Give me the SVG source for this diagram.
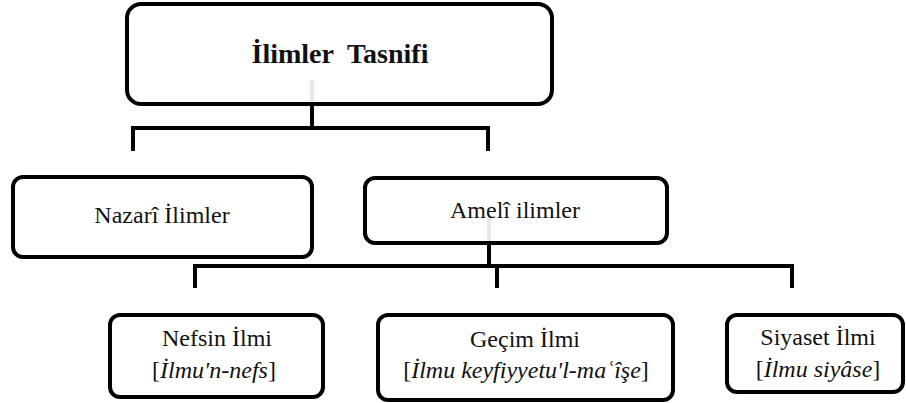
<svg xmlns="http://www.w3.org/2000/svg" width="906" height="403" viewBox="0 0 906 403">
<style>
.box{fill:#fff;stroke:#000;stroke-width:4}
.t{font-family:"Liberation Serif","Times New Roman",serif;font-size:24px;fill:#111;text-anchor:middle}
.title{font-weight:bold;font-size:28px}
.it{font-style:italic}
.con{stroke:#000;stroke-width:4;fill:none}
.ghost{stroke:#e8e8e8;stroke-width:4}
</style>
<rect width="906" height="403" fill="#fff"/>
<g id="root">
<rect class="box" x="127" y="4" width="425" height="100" rx="14"/>
<text class="t title" x="340" y="63" xml:space="preserve">İlimler  Tasnifi</text>
<line class="ghost" x1="312" y1="80" x2="312" y2="102"/>
</g>
<g id="nazari">
<rect class="box" x="13" y="177" width="299" height="80" rx="10"/>
<text class="t" x="162" y="223">Nazarî İlimler</text>
</g>
<g id="ameli">
<rect class="box" x="365" y="178" width="302" height="65" rx="10"/>
<text class="t" x="515" y="218">Amelî ilimler</text>
<line class="ghost" x1="489" y1="218" x2="489" y2="241"/>
</g>
<g id="nefsin">
<rect class="box" x="110" y="315" width="213" height="82" rx="10"/>
<text class="t" x="217" y="346">Nefsin İlmi</text>
<text class="t" x="214" y="378">[<tspan class="it">İlmu'n-nefs</tspan>]</text>
</g>
<g id="gecim">
<rect class="box" x="378" y="315" width="295" height="85" rx="10"/>
<text class="t" x="525" y="347">Geçim İlmi</text>
<text class="t" x="526" y="378">[<tspan class="it">İlmu keyfiyyetu'l-maʿîşe</tspan>]</text>
</g>
<g id="siyaset">
<rect class="box" x="727" y="315" width="176" height="77" rx="10"/>
<text class="t" x="818" y="345">Siyaset İlmi</text>
<text class="t" x="818" y="377">[<tspan class="it">İlmu siyâse</tspan>]</text>
</g>
<g id="connectors">
<path class="con" d="M312 104 V128"/>
<path class="con" d="M133 151 V128 H488 V151"/>
<path class="con" d="M489 243 V266"/>
<path class="con" d="M195 288 V266 H792 V288"/>
<path class="con" d="M497 266 V288"/>
</g>
</svg>
